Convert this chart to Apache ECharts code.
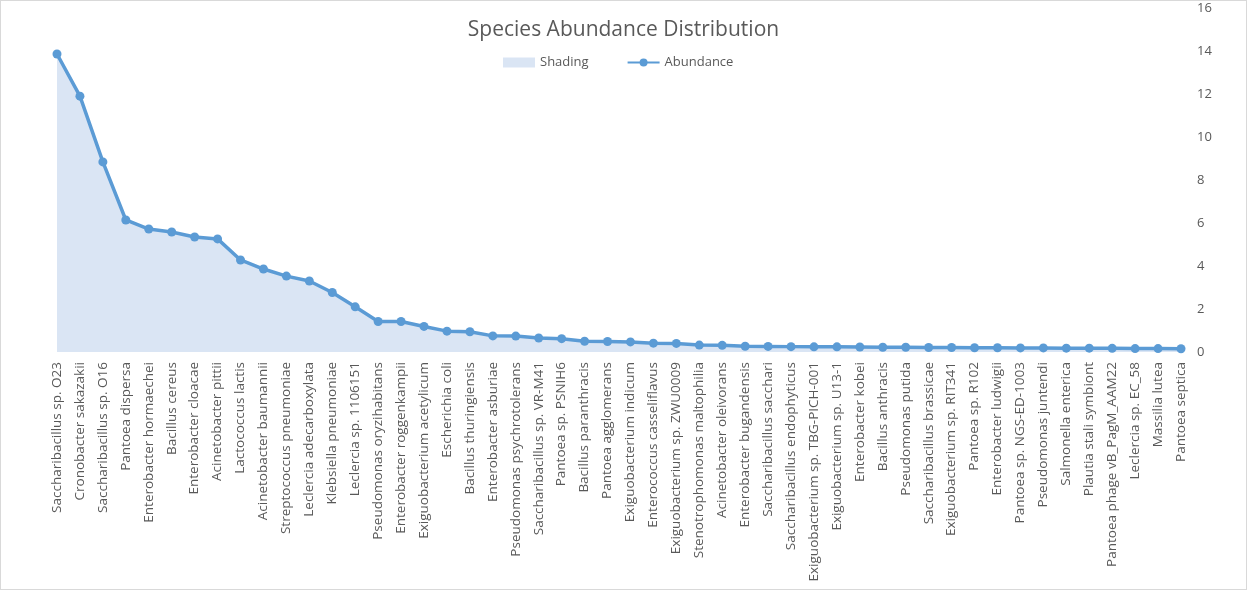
<!DOCTYPE html>
<html>
<head>
<meta charset="utf-8">
<script src="https://cdn.jsdelivr.net/npm/echarts@6/dist/echarts.min.js"></script>
<style>
html,body{margin:0;padding:0;background:#fff;}
#chart{position:absolute;left:0;top:0;width:1245px;height:588px;border:1px solid #d9d9d9;}
</style>
</head>
<body>
<div id="chart"></div>
<script>
const species = [
  "Saccharibacillus sp. O23","Cronobacter sakazakii","Saccharibacillus sp. O16","Pantoea dispersa",
  "Enterobacter hormaechei","Bacillus cereus","Enterobacter cloacae","Acinetobacter pittii",
  "Lactococcus lactis","Acinetobacter baumannii","Streptococcus pneumoniae","Leclercia adecarboxylata",
  "Klebsiella pneumoniae","Leclercia sp. 1106151","Pseudomonas oryzihabitans","Enterobacter roggenkampii",
  "Exiguobacterium acetylicum","Escherichia coli","Bacillus thuringiensis","Enterobacter asburiae",
  "Pseudomonas psychrotolerans","Saccharibacillus sp. VR-M41","Pantoea sp. PSNIH6","Bacillus paranthracis",
  "Pantoea agglomerans","Exiguobacterium indicum","Enterococcus casseliflavus","Exiguobacterium sp. ZWU0009",
  "Stenotrophomonas maltophilia","Acinetobacter oleivorans","Enterobacter bugandensis","Saccharibacillus sacchari",
  "Saccharibacillus endophyticus","Exiguobacterium sp. TBG-PICH-001","Exiguobacterium sp. U13-1","Enterobacter kobei",
  "Bacillus anthracis","Pseudomonas putida","Saccharibacillus brassicae","Exiguobacterium sp. RIT341",
  "Pantoea sp. R102","Enterobacter ludwigii","Pantoea sp. NGS-ED-1003","Pseudomonas juntendi",
  "Salmonella enterica","Plautia stali symbiont","Pantoea phage vB_PagM_AAM22","Leclercia sp. EC_58",
  "Massilia lutea","Pantoea septica"
];
const abundance = [
  13.86, 11.9, 8.84, 6.14, 5.72, 5.58, 5.35, 5.26, 4.28, 3.86,
  3.53, 3.3, 2.77, 2.1, 1.42, 1.42, 1.19, 0.97, 0.94, 0.75,
  0.74, 0.65, 0.62, 0.5, 0.49, 0.47, 0.41, 0.4, 0.32, 0.31,
  0.27, 0.26, 0.25, 0.24, 0.24, 0.23, 0.22, 0.22, 0.21, 0.21,
  0.2, 0.2, 0.19, 0.19, 0.18, 0.18, 0.17, 0.16, 0.16, 0.15
];
const yTicks = { min: 0, max: 16, interval: 2 };

const chart = echarts.init(document.getElementById('chart'), null, {renderer: 'canvas'});
const FONT = '"Open Sans", sans-serif';
chart.setOption({
  backgroundColor: '#ffffff',
  animation: false,
  title: {
    text: 'Species Abundance Distribution',
    left: 'center',
    top: 14,
    textStyle: {fontFamily: FONT, fontSize: 21, fontWeight: 'normal', color: '#595959'}
  },
  legend: {
    left: 497,
    top: 50,
    itemWidth: 32,
    itemHeight: 10,
    itemGap: 38,
    textStyle: {fontFamily: FONT, fontSize: 13, color: '#595959'},
    data: [{name: 'Shading', icon: 'rect'}, {name: 'Abundance'}]
  },
  grid: {left: 56, right: 65, top: 7, bottom: 237, containLabel: false},
  xAxis: {
    type: 'category',
    data: species,
    boundaryGap: false,
    axisLine: {show: false},
    axisTick: {show: false},
    axisLabel: {interval: 0, rotate: 90, margin: 10, fontFamily: FONT, fontSize: 13.5, color: '#595959'}
  },
  yAxis: {
    type: 'value',
    position: 'right',
    min: yTicks.min, max: yTicks.max, interval: yTicks.interval,
    axisLine: {show: false},
    axisTick: {show: false},
    splitLine: {show: false},
    axisLabel: {margin: 16, fontFamily: FONT, fontSize: 13, color: '#595959'}
  },
  series: [
    {
      name: 'Shading',
      type: 'line',
      data: abundance,
      showSymbol: false,
      symbol: 'none',
      lineStyle: {width: 0, opacity: 0},
      itemStyle: {color: '#dae5f4'},
      areaStyle: {color: '#dae5f4', opacity: 1},
      z: 1
    },
    {
      name: 'Abundance',
      type: 'line',
      data: abundance,
      symbol: 'circle',
      symbolSize: 9,
      lineStyle: {width: 3.5, color: '#5b9bd5'},
      itemStyle: {color: '#5b9bd5'},
      z: 3
    }
  ]
});
</script>
</body>
</html>
